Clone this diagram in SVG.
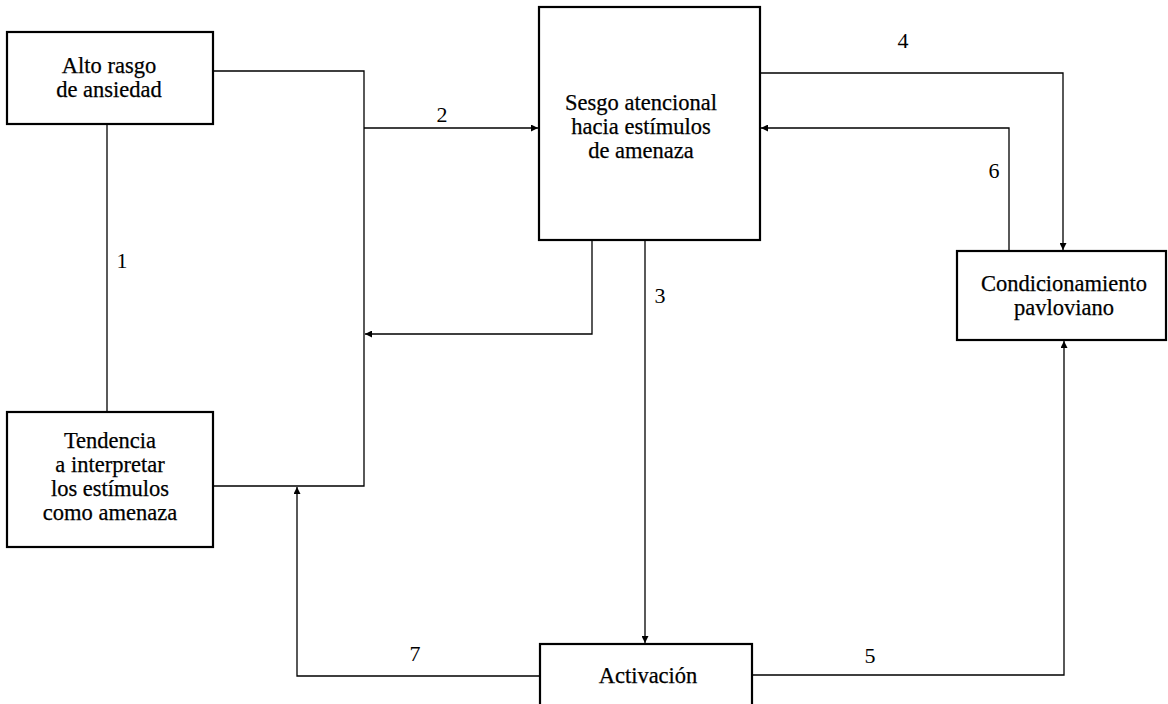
<svg xmlns="http://www.w3.org/2000/svg" width="1168" height="704" viewBox="0 0 1168 704">
  <style>
    .box { fill: #ffffff; stroke: #000000; stroke-width: 2.2; }
    .lbl { font-family: 'Liberation Serif', 'Times New Roman', 'DejaVu Serif', serif; font-size: 22.5px; fill: #000000; stroke: #000000; stroke-width: 0.25; text-anchor: middle; }
    .num { font-family: 'Liberation Serif', 'Times New Roman', 'DejaVu Serif', serif; font-size: 22px; fill: #000000; text-anchor: middle; }
    .wire { fill: none; stroke: #000000; stroke-width: 1.3; }
  </style>
  <defs>
    <marker id="arrow" viewBox="0 0 10 10" refX="10" refY="5" markerWidth="8" markerHeight="7" markerUnits="userSpaceOnUse" orient="auto">
      <path d="M0,0 L10,5 L0,10 z" fill="#000000"/>
    </marker>
  </defs>
  <rect width="1168" height="704" fill="#ffffff"/>

  <!-- connectors -->
  <g id="connectors">
    <!-- 1: trait anxiety to interpretation tendency -->
    <line class="wire" x1="107" y1="124" x2="107" y2="412"/>
    <!-- both left boxes feed the bus at x=364 -->
    <polyline class="wire" points="213,71 364,71 364,486 213,486"/>
    <!-- 2: bus to attentional bias -->
    <line class="wire" x1="364" y1="128" x2="538" y2="128" marker-end="url(#arrow)"/>
    <!-- attentional bias back to the bus -->
    <polyline class="wire" points="592,240 592,334 365,334" marker-end="url(#arrow)"/>
    <!-- 3: attentional bias to activation -->
    <line class="wire" x1="645" y1="240" x2="645" y2="643" marker-end="url(#arrow)"/>
    <!-- 4: attentional bias to conditioning -->
    <polyline class="wire" points="760,73 1063,73 1063,250" marker-end="url(#arrow)"/>
    <!-- 6: conditioning back to attentional bias -->
    <polyline class="wire" points="1009,251 1009,128 761,128" marker-end="url(#arrow)"/>
    <!-- 5: activation to conditioning -->
    <polyline class="wire" points="752,675 1064,675 1064,341" marker-end="url(#arrow)"/>
    <!-- 7: activation to the interpretation bus -->
    <polyline class="wire" points="540,676 297,676 297,487" marker-end="url(#arrow)"/>

    <text class="num" x="122" y="268">1</text>
    <text class="num" x="442" y="122">2</text>
    <text class="num" x="660" y="303">3</text>
    <text class="num" x="903" y="48">4</text>
    <text class="num" x="870" y="663">5</text>
    <text class="num" x="994" y="178">6</text>
    <text class="num" x="415" y="661">7</text>
  </g>

  <g id="alto-rasgo">
    <rect class="box" x="7" y="32" width="206" height="92"/>
    <text class="lbl" x="109" y="73">Alto rasgo<tspan x="109" dy="24">de ansiedad</tspan></text>
  </g>

  <g id="tendencia">
    <rect class="box" x="7" y="412" width="206" height="135"/>
    <text class="lbl" x="110" y="448">Tendencia<tspan x="110" dy="24">a interpretar</tspan><tspan x="110" dy="24">los estímulos</tspan><tspan x="110" dy="24">como amenaza</tspan></text>
  </g>

  <g id="sesgo">
    <rect class="box" x="539" y="7" width="221" height="233"/>
    <text class="lbl" x="641" y="110">Sesgo atencional<tspan x="641" dy="24">hacia estímulos</tspan><tspan x="641" dy="24">de amenaza</tspan></text>
  </g>

  <g id="condicionamiento">
    <rect class="box" x="957" y="251" width="209" height="89"/>
    <text class="lbl" x="1064" y="291">Condicionamiento<tspan x="1064" dy="24">pavloviano</tspan></text>
  </g>

  <g id="activacion">
    <rect class="box" x="540" y="644" width="212" height="70"/>
    <text class="lbl" x="648" y="683">Activación</text>
  </g>
</svg>
